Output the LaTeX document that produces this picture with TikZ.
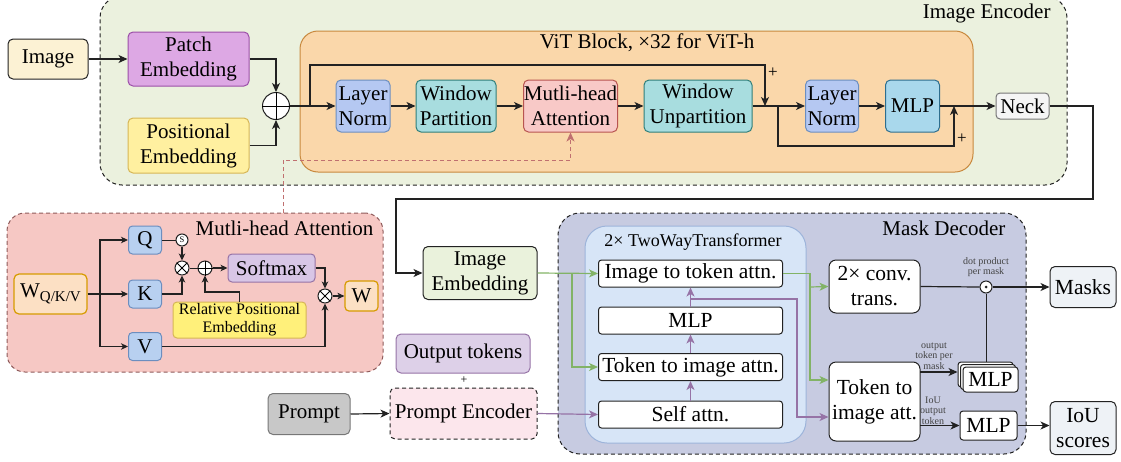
\documentclass[tikz,border=0pt]{standalone}
\usepackage{fontspec}
\setmainfont{Liberation Serif}
\usetikzlibrary{arrows.meta}
\definecolor{encfill}{HTML}{EBF1DE}
\definecolor{vitfill}{HTML}{FAD7AA}
\definecolor{vitdraw}{HTML}{C8893E}
\definecolor{imgfill}{HTML}{FCF2D4}
\definecolor{patchfill}{HTML}{DDA8E4}
\definecolor{patchdraw}{HTML}{9B4FA8}
\definecolor{posfill}{HTML}{FFF0A0}
\definecolor{posdraw}{HTML}{D6B656}
\definecolor{lnfill}{HTML}{B5C8F2}
\definecolor{lndraw}{HTML}{6C8EBF}
\definecolor{wpfill}{HTML}{A8DDDF}
\definecolor{wpdraw}{HTML}{2F7F7A}
\definecolor{mhafill}{HTML}{F8C9C7}
\definecolor{mhadraw}{HTML}{B85450}
\definecolor{mlpfill}{HTML}{A9D8EC}
\definecolor{mlpdraw}{HTML}{2E6E8E}
\definecolor{neckfill}{HTML}{F5F5F5}
\definecolor{neckdraw}{HTML}{777777}
\definecolor{attfill}{HTML}{F6C8C4}
\definecolor{attdraw}{HTML}{8E5A5A}
\definecolor{qfill}{HTML}{B8D0F0}
\definecolor{smfill}{HTML}{D8C6E6}
\definecolor{smdraw}{HTML}{9673A6}
\definecolor{wfill}{HTML}{FCE0C4}
\definecolor{wdraw}{HTML}{D79B00}
\definecolor{rpefill}{HTML}{FFF07A}
\definecolor{embfill}{HTML}{EAF2DC}
\definecolor{decfill}{HTML}{C7CBE1}
\definecolor{twfill}{HTML}{D7E5F7}
\definecolor{twdraw}{HTML}{9DB4DA}
\definecolor{otfill}{HTML}{DDD0E8}
\definecolor{pefill}{HTML}{FCE6EC}
\definecolor{prfill}{HTML}{C8C8C8}
\definecolor{outfill}{HTML}{EEF2F6}
\definecolor{garrow}{HTML}{82B366}
\definecolor{parrow}{HTML}{9673A6}
\definecolor{dline}{HTML}{C07070}
\definecolor{dark}{HTML}{222222}
\begin{document}
\begin{tikzpicture}[x=1pt,y=-1pt,
  bx/.style={draw=dark, line width=1pt, rounded corners=5pt, align=center, inner sep=0pt, font=\fontsize{21}{25}\selectfont},
  big/.style={font=\fontsize{21.5}{25}\selectfont},
  arr/.style={-{Stealth[length=9pt,width=8pt,inset=2.5pt]}, line width=1.2pt, draw=dark},
  sarr/.style={-{Stealth[length=7pt,width=6.5pt,inset=2pt]}, line width=1.1pt, draw=dark},
  garr/.style={-{Stealth[length=9pt,width=8pt,inset=2.5pt]}, line width=1.2pt, draw=garrow},
  parr/.style={-{Stealth[length=9pt,width=8pt,inset=2.5pt]}, line width=1.2pt, draw=parrow},
  ln/.style={line width=1.2pt, draw=dark},
  op/.style={circle, draw=dark, line width=1pt, fill=white, inner sep=0pt},
  tiny/.style={font=\fontsize{10}{10.5}\selectfont, align=center, inner sep=0pt, text=dark!85},
  dsh/.style={dash pattern=on 4pt off 3pt}]
\useasboundingbox (0,0) rectangle (1121,461);

% ---------------- Image encoder ----------------
\node[draw=dark, line width=1pt, dsh, fill=encfill, rounded corners=22pt, minimum width=967pt, minimum height=189pt, inner sep=0pt] (ienc) at (583.5,90.5) {};
\node[anchor=east, font=\fontsize{21}{22}\selectfont] (ienclbl) at (1054,13) {Image Encoder};

\node[bx, fill=imgfill, minimum width=80pt, minimum height=40pt] (img) at (48,59) {Image};
\node[bx, fill=patchfill, draw=patchdraw, minimum width=121pt, minimum height=54pt] (patch) at (188.5,59) {Patch\\Embedding};
\node[bx, fill=posfill, draw=posdraw, minimum width=121pt, minimum height=55pt] (pos) at (188.5,145.5) {Positional\\Embedding};
\node[op, minimum size=27pt] (plus) at (276,106) {};
\draw[line width=1pt] (plus.north) -- (plus.south) (plus.west) -- (plus.east);

\node[draw=vitdraw, line width=1pt, fill=vitfill, rounded corners=18pt, minimum width=673pt, minimum height=141pt, inner sep=0pt] (vit) at (636.5,101.5) {};
\node[font=\fontsize{21}{22}\selectfont] (vitlbl) at (647,43) {ViT Block, ×32 for ViT-h};

\node[bx, fill=lnfill, draw=lndraw, minimum width=54pt, minimum height=52pt] (ln1) at (363,106) {Layer\\Norm};
\node[bx, fill=wpfill, draw=wpdraw, minimum width=80pt, minimum height=52pt] (wp) at (456,106) {Window\\Partition};
\node[bx, fill=mhafill, draw=mhadraw, minimum width=94pt, minimum height=52pt] (mha) at (570.5,106) {Mutli-head\\Attention};
\node[bx, fill=wpfill, draw=wpdraw, minimum width=108pt, minimum height=52pt] (wu) at (698,106) {Window\\Unpartition};
\node[bx, fill=lnfill, draw=lndraw, minimum width=53pt, minimum height=52pt] (ln2) at (832,106) {Layer\\Norm};
\node[bx, fill=mlpfill, draw=mlpdraw, minimum width=54pt, minimum height=52pt] (mlp1) at (912.5,106) {MLP};
\node[bx, fill=neckfill, draw=neckdraw, minimum width=53pt, minimum height=26pt, rounded corners=4pt] (neck) at (1022.5,106) {Neck};

\draw[arr] (img.east) -- (patch.west);
\draw[arr] (patch.east) -| (plus.north);
\draw[arr] (pos.east) -| (plus.south);
\draw[arr] (plus.east) -- (ln1.west);
\draw[arr] (ln1.east) -- (wp.west);
\draw[arr] (wp.east) -- (mha.west);
\draw[arr] (mha.east) -- (wu.west);
\draw[arr] (wu.east) -- (ln2.west);
\draw[arr] (ln2.east) -- (mlp1.west);
\coordinate (b1) at (310,106);
\coordinate (j1) at (765,106);
\coordinate (b2) at (778,106);
\coordinate (j2) at (954,106);
\draw[arr] (b1) -- (310,65) -| (j1);
\draw[arr] (b2) -- (778,146) -| (j2);
\node[font=\fontsize{17}{17}\selectfont] (p1) at (773,73) {+};
\node[font=\fontsize{17}{17}\selectfont] (p2) at (962,139) {+};
\draw[arr] (mlp1.east) -- (neck.west);

% ---------------- Multi-head attention detail ----------------
\node[draw=attdraw, line width=1pt, dsh, fill=attfill, rounded corners=18pt, minimum width=376pt, minimum height=159pt, inner sep=0pt] (attbox) at (195,292.5) {};
\node[anchor=east, font=\fontsize{21}{22}\selectfont] (attlbl) at (377,228) {Mutli-head Attention};
\coordinate (d1) at (283,213);
\draw[dline, line width=1pt, dsh, -{Stealth[length=9pt,width=8pt,inset=2.5pt]}] (d1) -- (283,160) -| (mha.south);

\node[bx, fill=wfill, draw=wdraw, minimum width=73pt, minimum height=40pt, line width=1.2pt] (wqkv) at (50.5,294) {W\raisebox{-0.45ex}{\fontsize{15}{15}\selectfont Q/K/V}};
\node[bx, fill=qfill, draw=lndraw, minimum width=33pt, minimum height=28pt, rounded corners=4pt] (q) at (145,240) {Q};
\node[bx, fill=qfill, draw=lndraw, minimum width=33pt, minimum height=28pt, rounded corners=4pt] (k) at (145,294) {K};
\node[bx, fill=qfill, draw=lndraw, minimum width=33pt, minimum height=28pt, rounded corners=4pt] (v) at (145,346.5) {V};
\node[op, minimum size=12pt, font=\fontsize{8.5}{8.5}\selectfont] (s) at (182,240) {S};
\node[op, minimum size=14pt] (ot1) at (182,268) {};
\draw[line width=0.9pt] (ot1.north west) -- (ot1.south east) (ot1.north east) -- (ot1.south west);
\node[op, minimum size=14pt] (opl) at (205,268) {};
\draw[line width=0.9pt] (opl.north) -- (opl.south) (opl.west) -- (opl.east);
\node[bx, fill=smfill, draw=smdraw, minimum width=87pt, minimum height=28pt, rounded corners=4pt] (softmax) at (271.5,268) {Softmax};
\node[op, minimum size=14pt] (ot2) at (325,296) {};
\draw[line width=0.9pt] (ot2.north west) -- (ot2.south east) (ot2.north east) -- (ot2.south west);
\node[bx, fill=wfill, draw=wdraw, minimum width=33pt, minimum height=30pt, rounded corners=4pt, line width=1.2pt] (w) at (361.5,296) {W};
\node[bx, fill=rpefill, draw=posdraw, minimum width=133pt, minimum height=36pt, rounded corners=4pt, font=\fontsize{16}{18}\selectfont] (rpe) at (239.5,320) {Relative Positional\\Embedding};

\coordinate (wb) at (100,294);
\draw[ln] (wqkv.east) -- (wb);
\draw[sarr] (wb) |- (q.west);
\draw[sarr] (wb) -- (k.west);
\draw[sarr] (wb) |- (v.west);
\draw[ln, line width=1pt] (q.east) -- (s.west);
\draw[sarr] (s.south) -- (ot1.north);
\draw[sarr] (k.east) -| (ot1.south);
\draw[ln, line width=1pt] (ot1.east) -- (opl.west);
\draw[sarr] (opl.east) -- (softmax.west);
\draw[sarr] (rpe.north) -- (239.5,292) -| (opl.south);
\draw[sarr] (softmax.east) -| (ot2.north);
\draw[sarr] (v.east) -| (ot2.south);
\draw[sarr] (ot2.east) -- (w.west);

% ---------------- Neck to image embedding ----------------
\node[bx, fill=embfill, minimum width=114pt, minimum height=53pt] (imgemb) at (480,273) {Image\\Embedding};
\draw[arr] (neck.east) -- (1093,106) -- (1093,199) -- (396,199) |- (imgemb.west);

% ---------------- Prompt side ----------------
\node[bx, fill=otfill, draw=smdraw, minimum width=134pt, minimum height=39pt] (outtok) at (463,353.5) {Output tokens};
\node[font=\fontsize{12}{12}\selectfont] (p3) at (464,380) {+};
\node[bx, fill=pefill, dsh, minimum width=147pt, minimum height=51pt] (penc) at (463.5,413.5) {Prompt Encoder};
\node[bx, fill=prfill, draw=neckdraw, minimum width=82pt, minimum height=41pt] (prompt) at (309,414) {Prompt};
\draw[arr] (prompt.east) -- (penc.west);

% ---------------- Mask decoder ----------------
\node[draw=dark, line width=1pt, dsh, fill=decfill, rounded corners=22pt, minimum width=468pt, minimum height=241pt, inner sep=0pt] (mdec) at (792,333.5) {};
\node[anchor=east, font=\fontsize{21}{22}\selectfont] (mdeclbl) at (1009,228) {Mask Decoder};
\node[draw=twdraw, line width=1pt, fill=twfill, rounded corners=22pt, minimum width=221pt, minimum height=217pt, inner sep=0pt] (tw) at (695.5,334.5) {};
\node[font=\fontsize{18}{19}\selectfont] (twlbl) at (693,242) {2× TwoWayTransformer};

\node[bx, big, fill=white, minimum width=184pt, minimum height=27pt, rounded corners=3pt] (i2t) at (690.5,273.5) {Image to token attn.};
\node[bx, big, fill=white, minimum width=184pt, minimum height=27pt, rounded corners=3pt] (mlp2) at (690.5,320.5) {MLP};
\node[bx, big, fill=white, minimum width=184pt, minimum height=27pt, rounded corners=3pt] (t2i) at (690.5,367) {Token to image attn.};
\node[bx, big, fill=white, minimum width=184pt, minimum height=27pt, rounded corners=3pt] (sa) at (690.5,414.5) {Self attn.};

\node[bx, big, fill=white, minimum width=91pt, minimum height=53pt, rounded corners=7pt] (conv) at (874.5,286.5) {2× conv.\\trans.};
\node[bx, big, fill=white, minimum width=91pt, minimum height=79pt, rounded corners=7pt] (t2i2) at (874.5,401.5) {Token to\\image att.};

\node[op, minimum size=12pt] (dot) at (986,287) {};
\fill[dark] (dot.center) circle (1.5pt);
\node[tiny] (dotlbl) at (986,267) {dot product\\per mask};

\node[draw=dark, line width=1pt, fill=white, rounded corners=3pt, minimum width=55pt, minimum height=25pt, inner sep=0pt] (mlpb1) at (985.5,374.5) {};
\node[draw=dark, line width=1pt, fill=white, rounded corners=3pt, minimum width=55pt, minimum height=25pt, inner sep=0pt] (mlpb2) at (988,377) {};
\node[bx, big, fill=white, minimum width=55pt, minimum height=25pt, rounded corners=3pt] (mlps) at (990.5,379.5) {MLP};
\node[bx, big, fill=white, minimum width=57pt, minimum height=29pt, rounded corners=3pt] (mlp3) at (988.5,425.5) {MLP};

\node[bx, big, fill=outfill, minimum width=66pt, minimum height=41pt] (masks) at (1083,287) {Masks};
\node[bx, big, fill=outfill, minimum width=66pt, minimum height=53pt] (iou) at (1083,428) {IoU\\scores};

\node[tiny] (otpm) at (934,356) {output\\token per\\mask};
\node[tiny] (iout) at (933,410.5) {IoU\\output\\token};

% green connectors
\coordinate (g1) at (572,273.5);
\draw[garr] (imgemb.east) -- (i2t.west);
\draw[garr] (g1) |- (t2i.west);
\coordinate (g2) at (810,287);
\coordinate (g3) at (810,380);
\draw[garr] (i2t.east) -| (g3) -- (g3 -| t2i2.west);
\draw[garr] (g2) -- (conv.west);

% purple connectors
\draw[parr] (penc.east) -- (sa.west);
\draw[parr] (sa.north) -- (t2i.south);
\draw[parr] (t2i.north) -- (mlp2.south);
\draw[parr] (mlp2.north) -- (i2t.south);
\coordinate (pb) at (690.5,299);
\coordinate (pc) at (797,417);
\draw[parr] (pb) -- (797,299) -- (pc) -- (pc -| t2i2.west);

% decoder outputs
\draw[ln] (conv.east) -- (dot.west);
\draw[arr] (dot.east) -- (masks.west);
\draw[ln, line width=1pt] (dot.south) -- (dot.south |- mlpb1.north);
\coordinate (o1) at (920,372);
\draw[arr] (o1) -- (o1 -| mlpb1.west);
\coordinate (o2) at (920,425.5);
\draw[arr] (o2) -- (mlp3.west);
\draw[arr] (mlp3.east) -- (mlp3.east -| iou.west);
\end{tikzpicture}
\end{document}
